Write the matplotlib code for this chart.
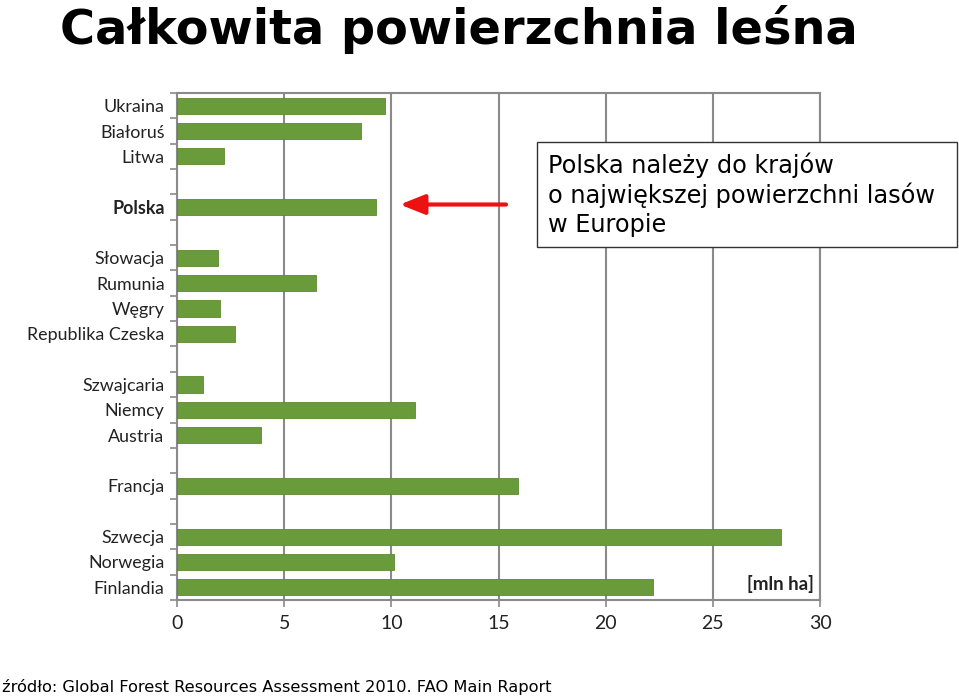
import numpy as np
import matplotlib.pyplot as plt
from matplotlib.patches import Rectangle

# forest area per country [mln ha], groups separated by an empty slot
countries = ["Ukraina", "Białoruś", "Litwa",
             "Polska",
             "Słowacja", "Rumunia", "Węgry", "Republika Czeska",
             "Szwajcaria", "Niemcy", "Austria",
             "Francja",
             "Szwecja", "Norwegia", "Finlandia"]
areas = [9.7, 8.6, 2.2,
         9.3,
         1.9, 6.5, 2.0, 2.7,
         1.2, 11.1, 3.9,
         15.9,
         28.2, 10.1, 22.2]
group_id = [0, 0, 0,
            1,
            2, 2, 2, 2,
            3, 3, 3,
            4,
            5, 5, 5]
x_ticks = [0, 5, 10, 15, 20, 25, 30]

# slot position = index + number of gaps before it
pos = np.arange(len(countries)) + np.array(group_id)
n_slots = pos[-1] + 1

fig = plt.figure(figsize=(9.59, 6.98), dpi=100)
ax = fig.add_axes([0.1846, 0.1404, 0.6705, 0.7264])

grid_c = "#8a8a8a"
ax.barh(pos, areas, height=0.64, color="#6a9b3b", edgecolor="#5c8a31", linewidth=0.6, zorder=3)

ax.set_xlim(0, 30)
ax.set_ylim(n_slots - 0.5, -0.5)
ax.set_xticks(x_ticks)
ax.set_xticklabels([str(t) for t in x_ticks], fontsize=14, family="Lato", color="#222222")
ax.set_yticks(pos)
ax.set_yticklabels(countries, fontsize=12.9, family="Lato", color="#222222")
for lab in ax.get_yticklabels():
    if lab.get_text() == "Polska":
        lab.set_fontweight("bold")
ax.set_yticks(np.arange(-0.5, n_slots, 1.0), minor=True)
ax.tick_params(axis="y", which="major", length=0, pad=9)
ax.tick_params(axis="y", which="minor", length=5, width=1.2, color=grid_c)
ax.tick_params(axis="x", length=5, width=1.2, color=grid_c, pad=6)

ax.grid(axis="x", color=grid_c, linewidth=1.5, zorder=0)
for side in ["left", "bottom", "top", "right"]:
    ax.spines[side].set_color(grid_c)
    ax.spines[side].set_linewidth(1.5)

ax.text(0.99, pos[-1] - 0.15, "[mln ha]", transform=ax.get_yaxis_transform(),
        ha="right", va="center", fontsize=13.5, fontweight="bold", family="Lato", color="#222222")

# arrow pointing at Polska
ax.annotate("", xy=(10.4, pos[3] - 0.1), xytext=(15.35, pos[3] - 0.1),
            arrowprops=dict(arrowstyle="-|>,head_length=1.5,head_width=0.6",
                            color="#ee1111", lw=3, shrinkA=0, shrinkB=0), zorder=5)

fig.text(0.478, 0.958, "Całkowita powierzchnia leśna", ha="center", va="center",
         fontsize=34.5, fontweight="bold", family="DejaVu Sans")

# note box
fig.patches.append(Rectangle((537 / 959, 1 - 247 / 698), 420 / 959, 105 / 698,
                             transform=fig.transFigure, facecolor="white",
                             edgecolor="#333333", linewidth=1, zorder=4))
fig.text(548 / 959, 1 - 194.5 / 698, "Polska należy do krajów\no największej powierzchni lasów\nw Europie",
         ha="left", va="center", fontsize=17.3, family="DejaVu Sans", linespacing=1.25, zorder=5)

fig.text(0.002, 0.016, "źródło: Global Forest Resources Assessment 2010. FAO Main Raport",
         ha="left", va="center", fontsize=11.7, family="DejaVu Sans")

fig.savefig("out.png", dpi=100)
